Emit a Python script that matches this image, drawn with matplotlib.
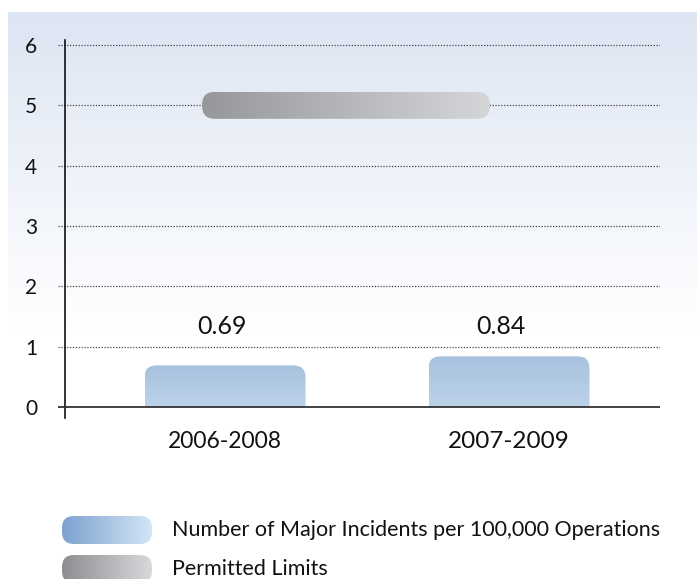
import numpy as np
import matplotlib
matplotlib.use('Agg')
import matplotlib.pyplot as plt
from matplotlib.path import Path
from matplotlib.patches import PathPatch
from matplotlib.colors import LinearSegmentedColormap

plt.rcParams['font.family'] = ['Lato', 'DejaVu Sans']

periods = ['2006-2008', '2007-2009']
incidents = [0.69, 0.84]
permitted_limit = 5
yticks = [0, 1, 2, 3, 4, 5, 6]
legend_labels = ['Number of Major Incidents per 100,000 Operations', 'Permitted Limits']

W, H = 697, 579
fig = plt.figure(figsize=(W / 100, H / 100), dpi=100)


def rounded_path(x0, x1, y0, y1, rx, ry, bottom_round=True):
    verts = [(x0, y1 - ry), (x0, y1), (x0 + rx, y1), (x1 - rx, y1), (x1, y1), (x1, y1 - ry)]
    codes = [Path.MOVETO, Path.CURVE3, Path.CURVE3, Path.LINETO, Path.CURVE3, Path.CURVE3]
    if bottom_round:
        verts += [(x1, y0 + ry), (x1, y0), (x1 - rx, y0), (x0 + rx, y0), (x0, y0), (x0, y0 + ry)]
        codes += [Path.LINETO, Path.CURVE3, Path.CURVE3, Path.LINETO, Path.CURVE3, Path.CURVE3]
    else:
        verts += [(x1, y0), (x0, y0)]
        codes += [Path.LINETO, Path.LINETO]
    verts.append((x0, y1 - ry))
    codes.append(Path.CLOSEPOLY)
    return Path(verts, codes)


def gradient_fill(ax, path, c0, c1, horizontal, zorder=2):
    cmap = LinearSegmentedColormap.from_list('g', [c0, c1])
    ext = path.get_extents()
    grad = np.linspace(0, 1, 256)
    img = grad.reshape(1, -1) if horizontal else grad.reshape(-1, 1)
    patch = PathPatch(path, facecolor='none', edgecolor='none', transform=ax.transData)
    ax.add_patch(patch)
    im = ax.imshow(img, cmap=cmap, aspect='auto', origin='lower' if not horizontal else 'upper',
                   extent=[ext.x0, ext.x1, ext.y0, ext.y1], zorder=zorder, interpolation='bilinear')
    im.set_clip_path(patch)


# background / legend layer in pixel coordinates
bg = fig.add_axes([0, 0, 1, 1])
bg.set_xlim(0, W)
bg.set_ylim(H, 0)
bg.axis('off')
bcmap = LinearSegmentedColormap.from_list('bg', ['#dde5f3', '#ffffff'])
bg.imshow(np.linspace(0, 1, 256).reshape(-1, 1), cmap=bcmap, aspect='auto',
          extent=[8, W, 330, 12], zorder=0)

# legend pills
leg_colors = [('#7ea2cf', '#d2e5f6'), ('#8d8e91', '#d8d9db')]
for i, (lab, (c0, c1)) in enumerate(zip(legend_labels, leg_colors)):
    yc = 530 + i * 39
    p = rounded_path(62, 152, yc + 14, yc - 14, 12, -12)
    gradient_fill(bg, p, c0, c1, True, zorder=1)
    bg.text(172, yc, lab, fontsize=15.5, va='center', ha='left', color='#111111')
bg.set_xlim(0, W)
bg.set_ylim(H, 0)

# main chart
x0px, x1px = 58, 660
ax = fig.add_axes([x0px / W, (H - 418) / H, (x1px - x0px) / W, (418 - 40) / H])
ax.patch.set_alpha(0)
xpos = np.arange(len(periods))
pxu = 284.0
ypu = (407 - 45) / 6.0

for s in ['top', 'right', 'bottom']:
    ax.spines[s].set_visible(False)
ax.spines['left'].set_position(('axes', 7 / (x1px - x0px)))
ax.spines['left'].set_color('#111111')
ax.spines['left'].set_linewidth(1.2)

for t in yticks[1:]:
    ax.axhline(t, color='#444444', linestyle=(0, (1, 1.3)), linewidth=0.9, zorder=1)
ax.axhline(0, color='#333333', linewidth=1.3, zorder=4)

ax.set_yticks(yticks)
ax.set_yticklabels([str(t) for t in yticks], fontsize=15, color='#111111')
ax.tick_params(axis='y', length=0, pad=20)
ax.set_xticks(xpos)
ax.set_xticklabels(periods, color='#111111')
for lbl, fs in zip(ax.get_xticklabels(), [16.5, 17.5]):
    lbl.set_fontsize(fs)
ax.tick_params(axis='x', length=0, pad=9)

bw = 161 / pxu
rx, ry = 12 / pxu, 12 / ypu
for xi, v in zip(xpos, incidents):
    p = rounded_path(xi - bw / 2, xi + bw / 2, 0, v, rx, ry, bottom_round=False)
    gradient_fill(ax, p, '#bdd3ea', '#a7c1de', False, zorder=2)
    ax.text(xi - 0.01 if xi == 0 else xi - 0.03, 80 / ypu, f'{v:.2f}', ha='center', va='center',
            fontsize=18, color='#111111')

# permitted limit band
hx = 13.5 / ypu
p = rounded_path((202 - 225) / pxu, (490 - 225) / pxu, permitted_limit - hx, permitted_limit + hx,
                 13 / pxu, 13 / ypu)
gradient_fill(ax, p, '#96979b', '#d5d6d8', True, zorder=3)

ax.set_xlim((x0px - 225) / pxu, (x1px - 225) / pxu)
ax.set_ylim(-(418 - 407) / ypu, 6 + (45 - 40) / ypu)

fig.savefig('out.png', dpi=100)
